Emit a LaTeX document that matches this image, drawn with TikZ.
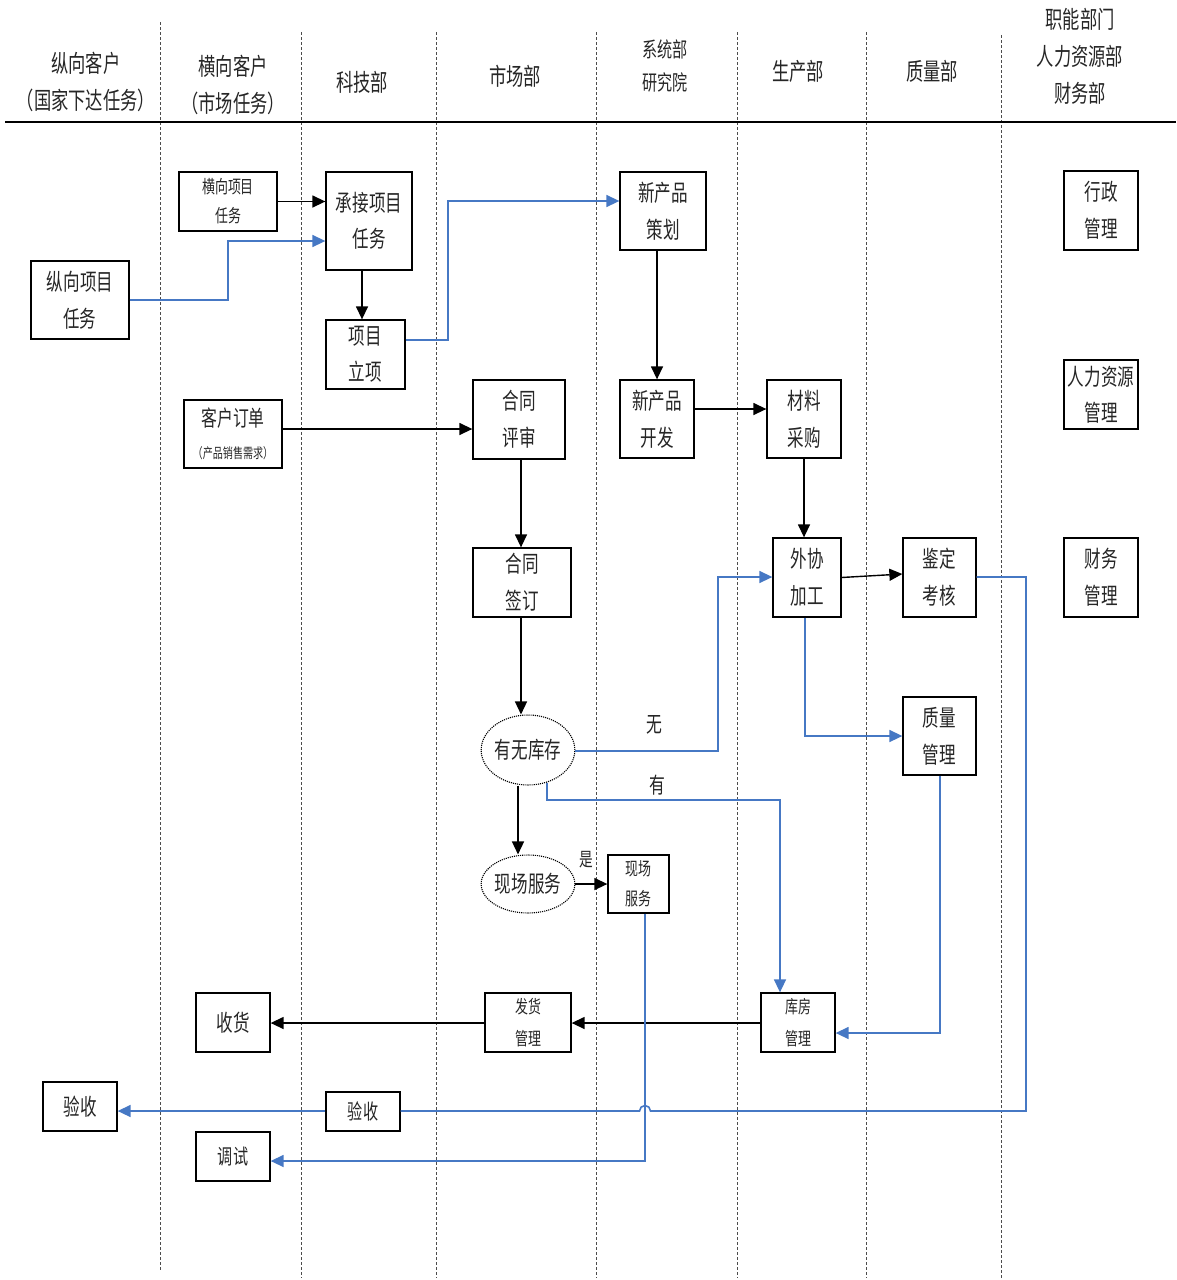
\documentclass[tikz,border=0pt]{standalone}
\usepackage{fontspec}
\setmainfont[FakeStretch=0.72]{Noto Sans CJK SC}
\usetikzlibrary{arrows.meta,shapes.geometric}
\definecolor{lblue}{RGB}{70,120,196}
\begin{document}
\begin{tikzpicture}[x=1pt,y=-1pt,
 bx/.style 2 args={draw,line width=1.3pt,inner sep=0pt,align=center,text=black!85,minimum width=#1pt,minimum height=#2pt},
 fs/.style 2 args={font=\fontsize{#1pt}{#2pt}\selectfont},
 el/.style 2 args={ellipse,draw,densely dotted,line width=1.1pt,inner sep=0pt,text=black!85,minimum width=#1pt,minimum height=#2pt},
 blk/.style={line width=1.4pt,-{Triangle[length=13pt,width=12pt]}},
 blu/.style={line width=1.5pt,lblue,-{Triangle[length=13pt,width=12pt]}},
 bline/.style={line width=1.6pt,lblue},
 lane/.style={densely dashed,line width=0.9pt,black!70},
 hd/.style={align=center,text=black!85,inner sep=0pt,fs={24}{37}},
 lbl/.style={text=black!85,inner sep=0pt}
]
\useasboundingbox (0,0) rectangle (1176,1280);
% lanes
\draw[lane] (160,22) -- (160,1270);
\foreach \x in {301,436,596,737,866} {\draw[lane] (\x,32) -- (\x,1278);}
\draw[lane] (1001,35) -- (1001,1278);
\draw[line width=2.6pt] (5,122) -- (1176,122);
% headers
\node[hd] (h1) at (86,81.5) {纵向客户\\（国家下达任务）};
\node[hd] (h2) at (233,85) {横向客户\\（市场任务）};
\node[hd] (h3) at (362,82) {科技部};
\node[hd] (h4) at (515,76) {市场部};
\node[hd,fs={21}{33}] (h5) at (665,66.5) {系统部\\研究院};
\node[hd] (h6) at (798,71) {生产部};
\node[hd] (h7) at (932,71) {质量部};
\node[hd] (h8) at (1080,56) {职能部门\\人力资源部\\财务部};
% boxes
\node[bx={98}{78},fs={23}{37}] (zx) at (80,300) {纵向项目\\任务};
\node[bx={98}{59},fs={18}{29}] (hx) at (228,201.5) {横向项目\\任务};
\node[bx={86}{98},fs={23}{36}] (cj) at (369,221) {承接项目\\任务};
\node[bx={79}{69},fs={23}{36}] (lx) at (365.5,354.5) {项目\\立项};
\node[bx={98}{68},fs={22}{32}] (kh) at (233,434) {客户订单\\{\fontsize{14pt}{18pt}\selectfont （产品销售需求）}};
\node[bx={92}{79},fs={23}{37}] (hp) at (519,419.5) {合同\\评审};
\node[bx={86}{78},fs={23}{37}] (ch) at (663,211) {新产品\\策划};
\node[bx={74}{78},fs={23}{37}] (kf) at (657,419) {新产品\\开发};
\node[bx={74}{78},fs={23}{37}] (cg) at (804,419) {材料\\采购};
\node[bx={98}{69},fs={23}{37}] (qd) at (522,582.5) {合同\\签订};
\node[bx={68}{79},fs={23}{37}] (wx) at (807,577.5) {外协\\加工};
\node[bx={73}{79},fs={23}{37}] (jd) at (939.5,577.5) {鉴定\\考核};
\node[bx={73}{78},fs={23}{37}] (zl) at (939.5,736) {质量\\管理};
\node[el={86}{70},fs={23}{30}] (kc) at (528,750) {有无库存};
\node[el={86}{58},fs={23}{30}] (xe) at (528,884) {现场服务};
\node[bx={61}{58},fs={18}{30}] (xb) at (638.5,884) {现场\\服务};
\node[bx={74}{59},fs={23}{30}] (sh) at (233,1022.5) {收货};
\node[bx={86}{59},fs={18}{32}] (fh) at (528,1022.5) {发货\\管理};
\node[bx={74}{59},fs={18}{32}] (kf2) at (798,1022.5) {库房\\管理};
\node[bx={74}{49},fs={23}{30}] (ys1) at (80,1106.5) {验收};
\node[bx={74}{39},fs={21}{30}] (ys2) at (363,1111.5) {验收};
\node[bx={74}{49},fs={21}{30}] (ts) at (233,1156.5) {调试};
\node[bx={74}{79},fs={23}{37}] (xz) at (1101,210.5) {行政\\管理};
\node[bx={74}{69},fs={23}{36}] (rl) at (1101,394.5) {人力资源\\管理};
\node[bx={74}{79},fs={23}{37}] (cw) at (1101,577.5) {财务\\管理};
% black connectors
\draw[blk] (hx.east) -- (hx.east -| cj.west);
\draw[blk] (cj.south -| 362,0) -- (lx.north -| 362,0);
\draw[blk] (ch.south -| 657,0) -- (kf.north -| 657,0);
\draw[blk] (kf.east |- 0,409) -- (cg.west |- 0,409);
\draw[blk] (kh.east |- 0,429) -- (hp.west |- 0,429);
\draw[blk] (hp.south -| 521,0) -- (qd.north -| 521,0);
\draw[blk] (cg.south) -- (wx.north -| cg.south);
\draw[blk] (qd.south -| 521,0) -- (kc.north -| 521,0);
\draw[blk] (kc.south -| 518,0) -- (xe.north -| 518,0);
\draw[blk] (xe.east) -- (xb.west);
\draw[blk] (wx.east) -- ([yshift=3.5pt]jd.west);
\draw[blk] (kf2.west |- 0,1023) -- (fh.east |- 0,1023);
\draw[blk] (fh.west |- 0,1023) -- (sh.east |- 0,1023);
% blue connectors
\draw[blu] (zx.east) -| (228,241) -- (cj.west |- 0,241);
\draw[blu] (lx.east |- 0,340) -| (448,201) -- (ch.west |- 0,201);
\draw[blu] (kc.east |- 0,751) -| (718,577) -- (wx.west |- 0,577);
\draw[blu] (kc.-60) |- (780,800) -- (kf2.north -| 780,0);
\draw[blu] (wx.south -| 805,0) |- (zl.west);
\draw[blu] (zl.south -| 940,0) |- (kf2.east |- 0,1033);
\draw[blu] (xb.south -| 645,0) |- (ts.east |- 0,1161);
\draw[bline] (jd.east |- 0,577) -| (1026,1111) -- (650.5,1111) arc[start angle=0,end angle=180,radius=5.5pt] -- (ys2.east |- 0,1111);
\draw[blu,line width=1.6pt] (ys2.west |- 0,1111) -- (ys1.east |- 0,1111);
% labels
\node[lbl,fs={22}{26}] (lw) at (654,725) {无};
\node[lbl,fs={22}{26}] (ly) at (657,785) {有};
\node[lbl,fs={19}{22}] (ls) at (586,860) {是};
\end{tikzpicture}
\end{document}
